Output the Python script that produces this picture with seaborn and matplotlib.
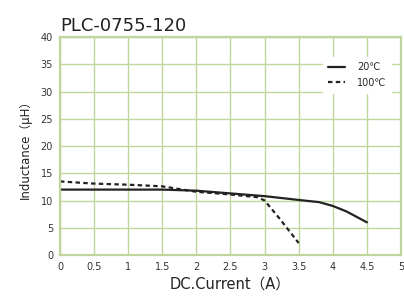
import matplotlib
matplotlib.use('Agg')
import matplotlib.pyplot as plt
import seaborn as sns
import pandas as pd
from matplotlib.lines import Line2D

# Values
current_20 = [0, 0.5, 1, 1.5, 2, 2.5, 3, 3.5, 3.8, 4, 4.2, 4.5]
induct_20 = [12, 12, 12, 12, 11.8, 11.3, 10.8, 10.1, 9.7, 9, 8, 6]
current_100 = [0, 0.5, 1, 1.5, 2, 2.5, 2.9, 3, 3.2, 3.5]
induct_100 = [13.5, 13.1, 12.9, 12.6, 11.6, 11.1, 10.6, 10, 7, 2.2]
x_ticks = [0, 0.5, 1, 1.5, 2, 2.5, 3, 3.5, 4, 4.5, 5]
x_tick_labels = ['0', '0.5', '1', '1.5', '2', '2.5', '3', '3.5', '4', '4.5', '5']
y_ticks = [0, 5, 10, 15, 20, 25, 30, 35, 40]

df = pd.concat([
    pd.DataFrame({'current': current_20, 'inductance': induct_20, 'temp': '20℃'}),
    pd.DataFrame({'current': current_100, 'inductance': induct_100, 'temp': '100℃'}),
])

sns.set_style('white')
fonts = ['DejaVu Sans', 'Noto Sans CJK JP']
plt.rcParams['font.family'] = fonts

grid_green = '#bfd69c'

fig = plt.figure(figsize=(4.04, 2.96), dpi=100)
ax = fig.add_axes([0.1485, 0.1385, 0.844, 0.7365])

sns.lineplot(data=df, x='current', y='inductance', style='temp',
             dashes={'20℃': '', '100℃': (2, 1.5)}, color='#222222',
             linewidth=1.6, sort=False, legend=False, ax=ax)

ax.set_xlim(0, 5)
ax.set_ylim(0, 40)
ax.set_xticks(x_ticks)
ax.set_xticklabels(x_tick_labels)
ax.set_yticks(y_ticks)
ax.tick_params(length=0, labelsize=7, colors='#333333', pad=5)
ax.grid(True, color=grid_green, linewidth=1.0)
ax.set_axisbelow(True)
for sp in ax.spines.values():
    sp.set_color(grid_green)
    sp.set_linewidth(1.6)

ax.set_xlabel('DC.Current（A）', fontsize=10.5, color='#222222', labelpad=3,
              family=fonts)
ax.set_ylabel('Inductance（μH）', fontsize=8.5, color='#222222', labelpad=6,
              family=fonts)
fig.text(0.148, 0.895, 'PLC-0755-120', fontsize=13, color='#222222')

# legend with white background covering the grid
handles = [Line2D([0], [0], color='#222222', lw=1.6, label='20℃'),
           Line2D([0], [0], color='#222222', lw=1.6, ls=(0, (2, 1.5)), label='100℃')]
leg = ax.legend(handles=handles, loc='upper right', bbox_to_anchor=(0.985, 0.93),
                frameon=True, handlelength=1.8, handletextpad=1.2,
                borderpad=0.5, labelspacing=0.6,
                prop={'family': fonts, 'size': 7})
leg.get_frame().set_edgecolor('white')
leg.get_frame().set_facecolor('white')
leg.get_frame().set_alpha(1)
leg.get_frame().set_boxstyle('square', pad=0)

fig.savefig('out.png', dpi=100)
